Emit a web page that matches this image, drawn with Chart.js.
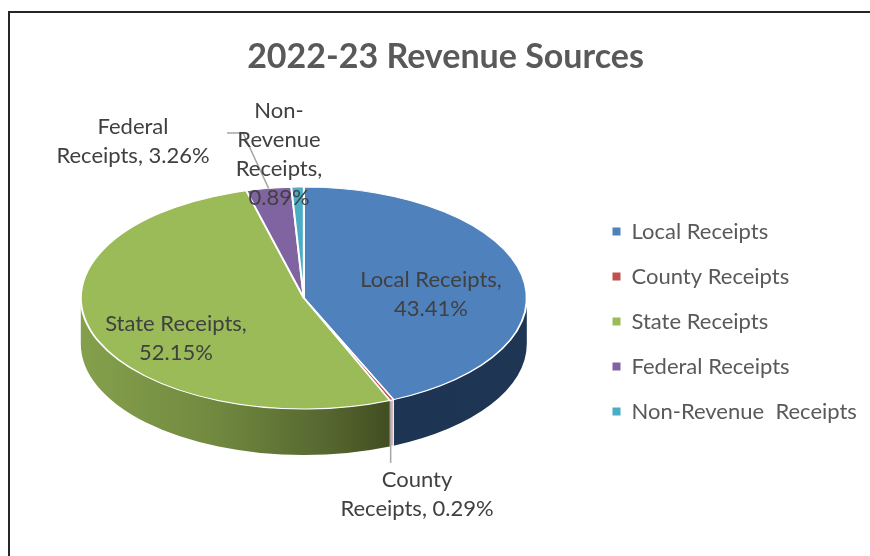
<!DOCTYPE html>
<html>
<head>
<meta charset="utf-8">
<style>
html,body{margin:0;padding:0;background:#fff;overflow:hidden}
#frame{position:absolute;left:8px;top:11px;width:900px;height:600px;border-left:2px solid #262626;border-top:2px solid #262626}
#c{position:absolute;left:0;top:0}
</style>
<script src="https://cdn.jsdelivr.net/npm/chart.js@4"></script>
</head>
<body>
<div id="frame"></div>
<canvas id="c" width="870" height="556"></canvas>
<script>
const titleText = "2022-23 Revenue Sources";
const categories = ["Local Receipts", "County Receipts", "State Receipts", "Federal Receipts", "Non-Revenue  Receipts"];
const values = [43.41, 0.29, 52.15, 3.26, 0.89];
const topColors = ["#4f81bd", "#c0504d", "#9bbb59", "#8064a2", "#4bacc6"];
const labelLines = [
  ["Local Receipts,"], ["County", "Receipts,"], ["State Receipts,"], ["Federal", "Receipts,"], ["Non-", "Revenue", "Receipts,"]
];
const labelPositions = [[431, 280], [417, 480], [176, 324], [133, 127], [279, 111]];
const labelFont = "22px Lato";
const squash = 0.4978;
const depth = 46;

const pie3d = {
  id: "pie3d",
  afterLayout(chart) {
    const lg = chart.legend;
    lg.left = 589.5; lg.right = 870;
    lg.top = 197;
    lg.bottom = lg.top + 24 + lg.columnSizes[0].height;
    chart.titleBlock.left = 21; chart.titleBlock.right = 870;
  },
  beforeDatasetsDraw(chart) {
    const ctx = chart.ctx, arcs = chart.getDatasetMeta(0).data;
    const a0 = arcs[0], cx = a0.x, cy = a0.y, r = a0.outerRadius, ry = r * squash;
    const grad = (stops) => {
      const g = ctx.createLinearGradient(cx - r, 0, cx + r, 0);
      stops.forEach(s => g.addColorStop(s[0], s[1]));
      return g;
    };
    const walls = [
      grad([[0, "#1c3350"], [1, "#1e3654"]]),
      "#d8b9b9",
      grad([[0, "#84a04c"], [0.3, "#71893f"], [0.55, "#566730"], [0.7, "#414c20"], [1, "#414c20"]]),
      "#4c3c61", "#2d6778"
    ];
    arcs.forEach((arc, i) => {
      const a = Math.max(arc.startAngle, 0), b = Math.min(arc.endAngle, Math.PI);
      if (b <= a) return;
      ctx.beginPath();
      ctx.ellipse(cx, cy, r, ry, 0, a, b);
      ctx.ellipse(cx, cy + depth, r, ry, 0, b, a, true);
      ctx.closePath();
      ctx.fillStyle = walls[i];
      ctx.fill();
      if (i === 1) { ctx.strokeStyle = "rgba(255,255,255,.8)"; ctx.lineWidth = 1; ctx.stroke(); }
    });
    ctx.save();
    ctx.translate(cx, cy);
    ctx.scale(1, squash);
    ctx.translate(-cx, -cy);
  },
  afterDatasetsDraw(chart) {
    chart.ctx.restore();
    const ctx = chart.ctx, arcs = chart.getDatasetMeta(0).data;
    const rim = (arc) => {
      const m = (arc.startAngle + arc.endAngle) / 2;
      return [arc.x + arc.outerRadius * Math.cos(m), arc.y + arc.outerRadius * squash * Math.sin(m)];
    };
    ctx.strokeStyle = "#a6a6a6";
    ctx.lineWidth = 1.5;
    const c = rim(arcs[1]), f = rim(arcs[3]);
    ctx.beginPath();
    ctx.moveTo(c[0] - 1, c[1] + 2);
    ctx.lineTo(c[0] - 1, 463);
    ctx.moveTo(f[0], f[1]);
    ctx.lineTo(243, 133);
    ctx.lineTo(227, 133);
    ctx.stroke();
    ctx.font = labelFont;
    ctx.fillStyle = "#404040";
    ctx.textAlign = "center";
    ctx.textBaseline = "middle";
    labelLines.forEach((lines, i) => {
      const all = lines.slice();
      const pct = values[i].toFixed(2) + "%";
      if (i === 1 || i === 3) all[all.length - 1] += " " + pct; else all.push(pct);
      all.forEach((t, k) => ctx.fillText(t, labelPositions[i][0], labelPositions[i][1] + k * 29));
    });
  }
};

new Chart(document.getElementById("c"), {
  type: "pie",
  data: {
    labels: categories,
    datasets: [{ data: values, backgroundColor: topColors, borderColor: "#fff", borderWidth: 2 }]
  },
  plugins: [pie3d],
  options: {
    responsive: false,
    animation: false,
    layout: { padding: { left: 15, right: 0, top: 0, bottom: 34 } },
    plugins: {
      tooltip: { enabled: false },
      title: {
        display: true, text: titleText, color: "#595959",
        font: { family: "Lato", size: 34, weight: "bold", lineHeight: 1 },
        padding: { top: 40, bottom: 0 }
      },
      legend: {
        position: "right",
        labels: {
          color: "#595959",
          font: { family: "Lato", size: 22 },
          boxWidth: 8, boxHeight: 8, padding: 23,
          generateLabels(chart) {
            return Chart.overrides.pie.plugins.legend.labels.generateLabels(chart).map(l => ({ ...l, lineWidth: 0 }));
          }
        }
      }
    }
  }
});
</script>
</body>
</html>
